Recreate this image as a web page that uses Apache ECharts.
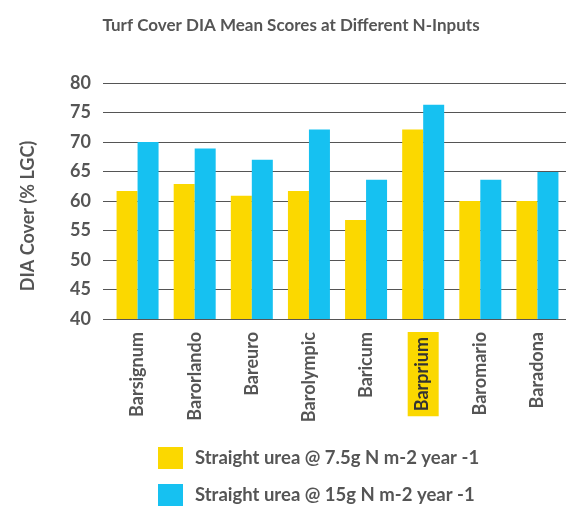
<!DOCTYPE html>
<html>
<head>
<meta charset="utf-8">
<script src="https://cdn.jsdelivr.net/npm/echarts@6/dist/echarts.min.js"></script>
<style>
  html, body { margin: 0; padding: 0; background: #fff; }
  #chart { width: 566px; height: 507px; }
</style>
</head>
<body>
<div id="chart"></div>
<script>
const categories = ['Barsignum', 'Barorlando', 'Bareuro', 'Barolympic', 'Baricum', 'Barprium', 'Baromario', 'Baradona'];
const lowN = [61.7, 62.9, 60.9, 61.7, 56.8, 72.1, 60.0, 60.0];
const highN = [70.0, 68.9, 67.0, 72.1, 63.6, 76.3, 63.6, 64.9];
const seriesNames = ['Straight urea @ 7.5g N m-2 year -1', 'Straight urea @ 15g N m-2 year -1'];
const highlighted = 'Barprium';

// legend items sit one under the other, so two legends
const legendText = { fontSize: 18.5, fontWeight: 'bold', color: '#555', padding: [0, 0, 0, 7] };

const chart = echarts.init(document.getElementById('chart'));
chart.setOption({
  textStyle: { fontFamily: 'Lato' },
  title: {
    text: 'Turf Cover DIA Mean Scores at Different N-Inputs',
    left: 286,
    textAlign: 'center',
    top: 12,
    textStyle: { fontSize: 17, fontWeight: 'bold', color: '#555' }
  },
  legend: [
    { left: 158, top: 447, padding: 0, itemWidth: 25, itemHeight: 22, icon: 'rect', textStyle: legendText, data: [seriesNames[0]] },
    { left: 158, top: 484, padding: 0, itemWidth: 25, itemHeight: 22, icon: 'rect', textStyle: legendText, data: [seriesNames[1]] }
  ],
  grid: { left: 109, right: -2, top: 83, bottom: 188 },
  xAxis: {
    type: 'category',
    data: categories,
    axisLine: { lineStyle: { color: '#555', width: 1 } },
    axisTick: { show: false },
    axisLabel: {
      rotate: 90,
      interval: 0,
      margin: 13,
      fontSize: 18,
      fontWeight: 'bold',
      color: '#555',
      formatter: function (v) { return v === highlighted ? '{hl|' + v + '}' : v; },
      rich: {
        hl: { backgroundColor: '#FBD800', fontSize: 18, fontWeight: 'bold', color: '#333', padding: [5, 5, 8, 5] }
      }
    }
  },
  yAxis: {
    type: 'value',
    min: 40,
    max: 80,
    interval: 5,
    name: 'DIA Cover (% LGC)',
    nameLocation: 'middle',
    nameGap: 72,
    nameTextStyle: { fontSize: 18, fontWeight: 'bold', color: '#555', padding: [0, 30, 0, 0] },
    axisLine: { show: false },
    axisTick: { show: true, length: 6, lineStyle: { color: '#555' } },
    axisLabel: { fontSize: 18, fontWeight: 'bold', color: '#555', margin: 18 },
    splitLine: { lineStyle: { color: '#555', width: 1 } }
  },
  series: [
    { name: seriesNames[0], type: 'bar', data: lowN, barWidth: 21, barGap: '0%', itemStyle: { color: '#FBD800' } },
    { name: seriesNames[1], type: 'bar', data: highN, barWidth: 21, itemStyle: { color: '#16C1F1' } }
  ]
});
</script>
</body>
</html>
